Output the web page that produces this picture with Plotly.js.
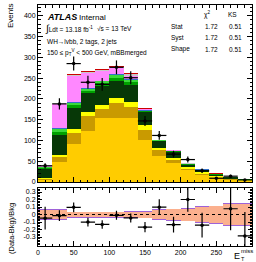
<!DOCTYPE html>
<html>
<head>
<meta charset="utf-8">
<script src="https://cdn.plot.ly/plotly-3.0.1.min.js"></script>
<style>html,body{margin:0;padding:0;background:#fff;}#plot{width:256px;height:262px;}</style>
</head>
<body>
<div id="plot"></div>
<script>
// ---- data ----
const binCenters = [10,30,50,70,90,110,130,150,170,190,210,230,250,270,290];
const ttbar      = [5,47,92,122,153,154,153,100,62,45,28,18,11,6,3];
const stop       = [2,12,25,36,22,35,28,24,14,9,3,2,1,1,0.5];
const yellowBkg  = [2,7,10,10,10,14,12,13,5,4,4,3,2,1,0.5];
const wbb        = [22,46,51,46,47,39,41,32,18,15,7,6,4,3,2];
const wbc        = [2.5,9,7,6,6,9,7,2,0.6,0.6,0.6,0.6,0.6,0.6,0.3];
const wcl        = [1.5,6,5,4,4,6,5,1,0.4,0.4,0.4,0.4,0.4,0.4,0.2];
const zjets      = [2,3,2,2,2,2,3,1,0.5,0.5,0.5,0.3,0.3,0.2,0.1];
const multijet   = [2,58,62,36,23,15,7,2,0.8,2,0.8,0.7,0.7,0.4,0.2];
const diboson    = [1,2,4,3,2,3,5,1.5,0.5,0.7,0.5,0.3,0.3,0.2,0.1];
const signal     = [1,1,2,2,2,2,2,0.5,0.2,0.3,0.2,0.2,0.2,0.2,0.1];
const dataCounts = [39,188,285,240,235,276,251,147,112,67,54,27,9,14,5];
const bandOuter  = [0.07,0.07,0.04,0.04,0.04,0.04,0.045,0.05,0.07,0.08,0.09,0.11,0.12,0.15,0.15];
const bandInner  = [0.055,0.055,0.03,0.03,0.03,0.03,0.035,0.04,0.06,0.07,0.08,0.10,0.11,0.14,0.14];
const ratioTickVals = [-0.3,-0.2,-0.1,0,0.1,0.2,0.3];
const ratioTickText = ["-0.3","-0.2","-0.1","0","0.1","0.2","0.3"];

const components = [
  {v: ttbar, c: '#ffcc00'},
  {v: stop, c: '#c99a00'},
  {v: yellowBkg, c: '#ffff00'},
  {v: wbb, c: '#073807'},
  {v: wbc, c: '#00a000'},
  {v: wcl, c: '#3ad83a'},
  {v: zjets, c: '#3370c8'},
  {v: multijet, c: '#ff88ff'},
  {v: diboson, c: '#c8c8c8'},
  {v: signal, c: '#cc0000'}
];

const traces = [];
let cum = binCenters.map(() => 0);
components.forEach(comp => {
  traces.push({
    type: 'bar', x: binCenters, y: comp.v, base: cum.slice(), width: 20,
    marker: {color: comp.c, line: {width: 0}}, xaxis: 'x', yaxis: 'y', hoverinfo: 'skip'
  });
  cum = cum.map((s, i) => s + comp.v[i]);
});
const bkg = cum;

traces.push({
  type: 'scatter', mode: 'markers', x: binCenters, y: dataCounts, xaxis: 'x', yaxis: 'y',
  marker: {color: 'black', size: 3.5},
  error_y: {type: 'data', array: dataCounts.map(d => Math.sqrt(d)), color: 'black', thickness: 1.2, width: 0},
  error_x: {type: 'constant', value: 10, color: 'black', thickness: 1.2, width: 0}
});

// ratio panel
traces.push({
  type: 'bar', x: binCenters, y: bandOuter.map(h => 2*h), base: bandOuter.map(h => -h), width: 20,
  marker: {color: '#9e62d8', line: {width: 0}}, xaxis: 'x2', yaxis: 'y2', hoverinfo: 'skip'
});
traces.push({
  type: 'bar', x: binCenters, y: bandInner.map(h => 2*h), base: bandInner.map(h => -h), width: 20,
  marker: {color: '#fbb08e', line: {width: 0}}, xaxis: 'x2', yaxis: 'y2', hoverinfo: 'skip'
});
const ratio = dataCounts.map((d, i) => d / bkg[i] - 1);
const ratioErr = dataCounts.map((d, i) => Math.sqrt(d) / bkg[i]);
traces.push({
  type: 'scatter', mode: 'markers', x: binCenters, y: ratio, xaxis: 'x2', yaxis: 'y2',
  marker: {color: 'black', size: 3.5},
  error_y: {type: 'data', array: ratioErr, color: 'black', thickness: 1.2, width: 0},
  error_x: {type: 'constant', value: 10, color: 'black', thickness: 1.2, width: 0}
});

// layout helpers (pixel -> paper)
const L = 38, R = 252, T = 5, B = 246;
function px(x) { return (x - L) / (R - L); }
function py(y) { return (B - y) / (B - T); }
const FONT = 'Liberation Sans, Arial, sans-serif';
function ann(text, x, y, size, xanchor, extra) {
  return Object.assign({text: text, x: px(x), y: py(y), xref: 'paper', yref: 'paper',
    showarrow: false, xanchor: xanchor || 'left', yanchor: 'middle',
    font: {family: FONT, size: size, color: 'black'}}, extra || {});
}

const axisCommon = {
  showline: true, linecolor: 'black', linewidth: 1, mirror: 'allticks',
  ticks: 'inside', ticklen: 5, tickcolor: 'black', tickwidth: 1,
  showgrid: false, zeroline: false, tickfont: {family: FONT, size: 7, color: 'black'}
};

const layout = {
  width: 256, height: 262,
  margin: {l: L, r: 256 - R, t: T, b: 262 - B, pad: 0},
  paper_bgcolor: 'white', plot_bgcolor: 'white',
  showlegend: false, barmode: 'overlay', bargap: 0,
  xaxis: Object.assign({}, axisCommon, {domain: [0, 1], anchor: 'y', range: [0, 300], dtick: 50,
    showticklabels: false, minor: {ticks: 'inside', ticklen: 2.5, dtick: 10, tickcolor: 'black'}}),
  yaxis: Object.assign({}, axisCommon, {domain: [py(182), 1], anchor: 'x', range: [0, 426], dtick: 50,
    minor: {ticks: 'inside', ticklen: 2.5, dtick: 10, tickcolor: 'black'}}),
  xaxis2: Object.assign({}, axisCommon, {domain: [0, 1], anchor: 'y2', range: [0, 300], dtick: 50,
    minor: {ticks: 'inside', ticklen: 2.5, dtick: 10, tickcolor: 'black'}}),
  yaxis2: Object.assign({}, axisCommon, {domain: [0, py(187.5)], anchor: 'x2', range: [-0.42, 0.36],
    tickvals: ratioTickVals, ticktext: ratioTickText, ticklen: 4,
    minor: {ticks: 'inside', ticklen: 2, dtick: 0.02, tickcolor: 'black'}}),
  shapes: [
    {type: 'line', xref: 'x2', yref: 'y2', x0: 0, x1: 300, y0: 0, y1: 0,
     line: {color: 'black', width: 1, dash: 'dot'}}
  ],
  annotations: [
    ann('<b><i>ATLAS</i></b>', 45, 17, 9),
    ann('Internal', 77, 17, 8),
    ann('<span style="font-size:10px">∫</span>Ldt = 13.18 fb<sup>-1</sup>', 43, 29, 6.5),
    ann('√s = 13 TeV', 95, 29, 6.5),
    ann('WH→lvbb, 2 tags, 2 jets', 45, 42, 6.5),
    ann('150 ≤ p<sub>T</sub><sup>V</sup> < 500 GeV, mBBmerged', 45, 53, 6.5),
    ann('χ<sup>2</sup>', 207, 15, 6.5, 'center'),
    ann('KS', 232.5, 15, 6.5, 'center'),
    ann('Stat', 169, 26.5, 6.5),
    ann('1.72', 211, 26.5, 6.5, 'center'),
    ann('0.51', 235, 26.5, 6.5, 'center'),
    ann('Syst', 169, 38, 6.5),
    ann('1.72', 211, 38, 6.5, 'center'),
    ann('0.51', 235, 38, 6.5, 'center'),
    ann('Shape', 169, 49, 6.5),
    ann('1.72', 211, 49, 6.5, 'center'),
    ann('0.51', 235, 49, 6.5, 'center'),
    ann('Events', 11, 16, 8, 'center', {textangle: -90}),
    ann('(Data-Bkg)/Bkg', 11, 229, 7.5, 'center', {textangle: -90}),
    ann('E', 237, 256, 9, 'center'),
    ann('miss', 247, 251.5, 6, 'center'),
    ann('T', 242.5, 258.5, 5.5, 'center')
  ]
};

Plotly.newPlot('plot', traces, layout, {staticPlot: true, displayModeBar: false});
</script>
</body>
</html>
